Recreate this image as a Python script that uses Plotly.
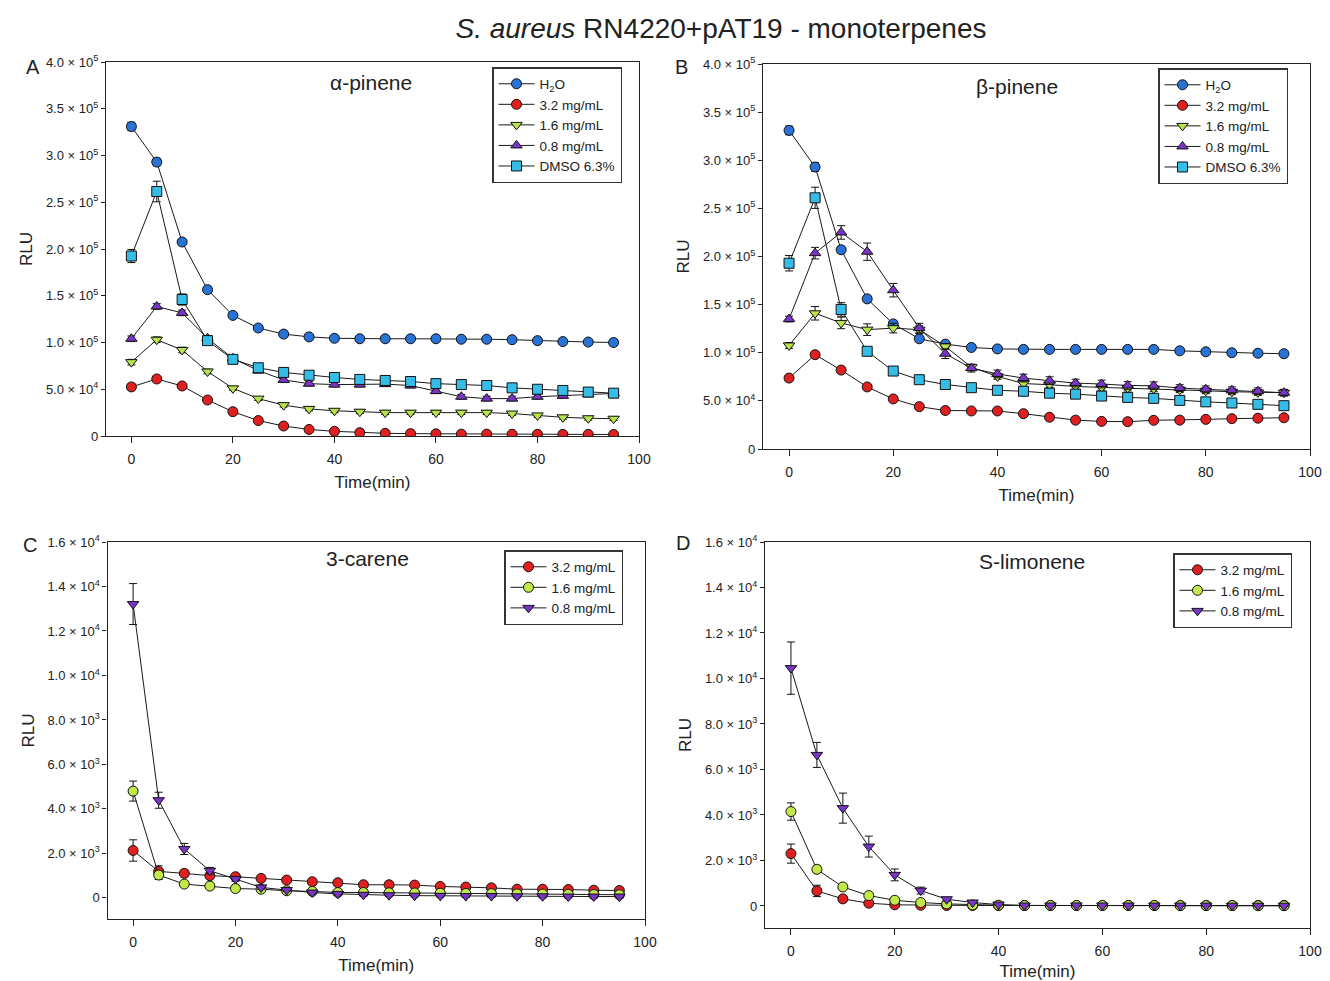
import plotly.graph_objects as go

time = [0, 5, 10, 15, 20, 25, 30, 35, 40, 45, 50, 55, 60, 65, 70, 75, 80, 85, 90, 95]

# Panel A: alpha-pinene
A_h2o = [331000, 293000, 207500, 156500, 129000, 115500, 109000, 106000, 104500, 104000, 104000, 104000, 104000, 103500, 103500, 103000, 102000, 101000, 100500, 100000]
A_32 = [52500, 61000, 53500, 38500, 26000, 16500, 10700, 7000, 5000, 3600, 2900, 2500, 2300, 2000, 2000, 1900, 1800, 1700, 1700, 1600]
A_16 = [79000, 103000, 92000, 69000, 51000, 40000, 33000, 29000, 27000, 26000, 25000, 25000, 25000, 25000, 25000, 24000, 22000, 20000, 19000, 18500]
A_08 = [104000, 138500, 131700, 104500, 83000, 70000, 60000, 56000, 55000, 55000, 55500, 54000, 48000, 42000, 40000, 40000, 42000, 43000, 44500, 45500]
A_dmso = [192500, 261500, 146000, 102000, 82000, 73000, 68000, 65000, 62600, 60500, 59400, 58300, 56000, 55000, 54000, 51500, 50000, 48700, 47000, 45800]
A_h2o_err = [4500, 4000, 3000, 2500, 2000, 2000, 2000, 2000, 2000, 2000, 2000, 2000, 2000, 2000, 2000, 2000, 2000, 2000, 2000, 2000]
A_32_err = [3000, 3000, 2500, 2000, 2000, 2000, 1500, 1500, 1500, 1500, 1500, 1500, 1500, 1500, 1500, 1500, 1500, 1500, 1500, 1500]
A_16_err = [3000, 3000, 3000, 2500, 2000, 2000, 2000, 2000, 2000, 2000, 2000, 2000, 2000, 2000, 2000, 2000, 2000, 2000, 2000, 2000]
A_08_err = [3000, 3000, 3000, 3000, 2500, 2500, 2500, 2500, 2500, 2500, 2500, 2500, 2500, 2500, 2500, 2500, 2500, 2500, 2500, 2500]
A_dmso_err = [7000, 11000, 6000, 3500, 3000, 2500, 2500, 2500, 2500, 2500, 2500, 2500, 2500, 2500, 2500, 2500, 2500, 2500, 2500, 2500]

# Panel B: beta-pinene
B_h2o = [331000, 293000, 207000, 156000, 130000, 114500, 109000, 105500, 104000, 103500, 103500, 103500, 103500, 103500, 103500, 102000, 101000, 100000, 99500, 99000]
B_32 = [73700, 98000, 82000, 64500, 52000, 44000, 40000, 39500, 39500, 36700, 33000, 30000, 28700, 28400, 29800, 30000, 30800, 31500, 32000, 32500]
B_16 = [107600, 141000, 131000, 124000, 125600, 124000, 106600, 85000, 75400, 68000, 66800, 65000, 64000, 63300, 62600, 61600, 60500, 59500, 58800, 58500]
B_08 = [135000, 203500, 225000, 205000, 165000, 125600, 99000, 84000, 78000, 73700, 71000, 68500, 67500, 66000, 65700, 63300, 62000, 61000, 60000, 58500]
B_dmso = [193000, 261000, 145000, 101500, 81000, 72000, 67000, 63700, 61000, 60000, 58000, 57000, 55000, 53600, 52600, 50500, 49000, 47800, 46400, 45000]
B_h2o_err = [4500, 4500, 3500, 3000, 2500, 2500, 2000, 2000, 2000, 2000, 2000, 2000, 2000, 2000, 2000, 2000, 2000, 2000, 2000, 2000]
B_32_err = [3000, 3000, 3000, 2500, 2500, 2000, 2000, 2000, 2000, 2000, 2000, 2000, 2000, 2000, 2000, 2000, 2000, 2000, 2000, 2000]
B_16_err = [3000, 7000, 6000, 6000, 5000, 4000, 3000, 3000, 3000, 3000, 3000, 3000, 3000, 3000, 3000, 3000, 3000, 3000, 3000, 3000]
B_08_err = [3000, 6000, 7000, 9000, 7000, 5000, 5000, 4000, 4000, 4000, 4000, 4000, 4000, 4000, 4000, 3500, 3500, 3500, 3500, 3500]
B_dmso_err = [8000, 11000, 7000, 3500, 3000, 2500, 2500, 2500, 2500, 2500, 2500, 2500, 2500, 2500, 2500, 2500, 2500, 2500, 2500, 2500]

# Panel C: 3-carene
C_32 = [2130, 1190, 1100, 1000, 950, 875, 800, 725, 680, 590, 590, 575, 515, 485, 450, 390, 390, 375, 345, 330]
C_16 = [4800, 1025, 620, 530, 420, 390, 320, 290, 240, 240, 230, 220, 210, 200, 190, 180, 170, 160, 150, 140]
C_08 = [13210, 4390, 2200, 1220, 845, 470, 350, 240, 180, 140, 120, 100, 90, 80, 80, 70, 70, 60, 60, 60]
C_32_err = [480, 250, 150, 120, 100, 80, 60, 60, 60, 60, 60, 60, 60, 60, 60, 60, 60, 60, 60, 60]
C_16_err = [450, 200, 100, 80, 60, 60, 60, 60, 60, 60, 60, 60, 60, 60, 60, 60, 60, 60, 60, 60]
C_08_err = [920, 360, 250, 150, 100, 80, 60, 60, 60, 60, 60, 60, 60, 60, 60, 60, 60, 60, 60, 60]

# Panel D: S-limonene
D_32 = [2300, 660, 310, 120, 50, 30, 20, 20, 20, 20, 20, 20, 20, 20, 20, 20, 20, 20, 20, 20]
D_16 = [4150, 1610, 835, 455, 250, 150, 90, 45, 30, 20, 20, 20, 20, 20, 20, 15, 15, 15, 10, 10]
D_08 = [10455, 6640, 4300, 2610, 1365, 675, 295, 150, 60, 20, 20, 20, 20, 20, 15, 15, 15, 10, 10, 10]
D_32_err = [420, 250, 120, 60, 40, 30, 20, 20, 20, 20, 20, 20, 20, 20, 20, 20, 20, 20, 20, 20]
D_16_err = [380, 150, 100, 60, 40, 30, 20, 20, 20, 20, 20, 20, 20, 20, 20, 20, 20, 20, 20, 20]
D_08_err = [1150, 550, 660, 460, 260, 150, 80, 40, 30, 20, 20, 20, 20, 20, 20, 20, 20, 20, 20, 20]

ticks_AB = [0, 50000, 100000, 150000, 200000, 250000, 300000, 350000, 400000]
ticktext_AB = ["0", "5.0 × 10<sup>4</sup>", "1.0 × 10<sup>5</sup>", "1.5 × 10<sup>5</sup>", "2.0 × 10<sup>5</sup>",
               "2.5 × 10<sup>5</sup>", "3.0 × 10<sup>5</sup>", "3.5 × 10<sup>5</sup>", "4.0 × 10<sup>5</sup>"]
ticks_CD = [0, 2000, 4000, 6000, 8000, 10000, 12000, 14000, 16000]
ticktext_CD = ["0", "2.0 × 10<sup>3</sup>", "4.0 × 10<sup>3</sup>", "6.0 × 10<sup>3</sup>", "8.0 × 10<sup>3</sup>",
               "1.0 × 10<sup>4</sup>", "1.2 × 10<sup>4</sup>", "1.4 × 10<sup>4</sup>", "1.6 × 10<sup>4</sup>"]

BLUE = "#2a73d6"
RED = "#e02020"
YGREEN = "#b9e34a"
PURPLE = "#7a35c8"
CYAN = "#35bde8"
LGREEN = "#c2e84a"

FONT = "Liberation Sans, Arial, sans-serif"

fig = go.Figure()

def add(x, y, err, name, color, symbol, n, legend):
    ax = "" if n == 1 else str(n)
    fig.add_trace(go.Scatter(
        x=x, y=y, name=name, mode="lines+markers",
        xaxis="x" + ax, yaxis="y" + ax, legend=legend,
        line=dict(color="#1a1a1a", width=1),
        marker=dict(color=color, symbol=symbol, size=10, line=dict(color="#111", width=1)),
        error_y=dict(type="data", array=err, color="#111", thickness=1, width=4),
    ))

add(time, A_h2o, A_h2o_err, "H<sub>2</sub>O", BLUE, "circle", 1, "legend")
add(time, A_32, A_32_err, "3.2 mg/mL", RED, "circle", 1, "legend")
add(time, A_16, A_16_err, "1.6 mg/mL", YGREEN, "triangle-down", 1, "legend")
add(time, A_08, A_08_err, "0.8 mg/mL", PURPLE, "triangle-up", 1, "legend")
add(time, A_dmso, A_dmso_err, "DMSO 6.3%", CYAN, "square", 1, "legend")

add(time, B_h2o, B_h2o_err, "H<sub>2</sub>O", BLUE, "circle", 2, "legend2")
add(time, B_32, B_32_err, "3.2 mg/mL", RED, "circle", 2, "legend2")
add(time, B_16, B_16_err, "1.6 mg/mL", YGREEN, "triangle-down", 2, "legend2")
add(time, B_08, B_08_err, "0.8 mg/mL", PURPLE, "triangle-up", 2, "legend2")
add(time, B_dmso, B_dmso_err, "DMSO 6.3%", CYAN, "square", 2, "legend2")

add(time, C_32, C_32_err, "3.2 mg/mL", RED, "circle", 3, "legend3")
add(time, C_16, C_16_err, "1.6 mg/mL", LGREEN, "circle", 3, "legend3")
add(time, C_08, C_08_err, "0.8 mg/mL", PURPLE, "triangle-down", 3, "legend3")

add(time, D_32, D_32_err, "3.2 mg/mL", RED, "circle", 4, "legend4")
add(time, D_16, D_16_err, "1.6 mg/mL", LGREEN, "circle", 4, "legend4")
add(time, D_08, D_08_err, "0.8 mg/mL", PURPLE, "triangle-down", 4, "legend4")

# page body adds an 8px offset; figure is sized so that it reaches the window's edges
OFF = 8
W, H = 1322, 973

def px(x):
    return (x - OFF) / W

def py(y):
    return 1 - (y - OFF) / H

def xdom(l, r):
    return [px(l), px(r)]

def ydom(b, t):
    return [py(b), py(t)]

def xax(dom, anchor):
    return dict(domain=dom, anchor=anchor, range=[-5, 100], tickvals=[0, 20, 40, 60, 80, 100],
                automargin=False, ticklabeloverflow="allow",
                showgrid=False, zeroline=False, showline=True, linecolor="#222", linewidth=1.2, mirror=True,
                ticks="outside", ticklen=6, tickcolor="#222", tickfont=dict(size=14, color="#222"),
                ticklabelstandoff=4,
                title=dict(text="Time(min)", font=dict(size=17, color="#222"), standoff=10))

def yax(dom, anchor, rng, tv, tt):
    return dict(domain=dom, anchor=anchor, range=rng, tickvals=tv, ticktext=tt,
                automargin=False,
                showgrid=False, zeroline=False, showline=True, linecolor="#222", linewidth=1.2, mirror=True,
                ticks="outside", ticklen=4, tickcolor="#222", tickfont=dict(size=13, color="#222"),
                title=dict(text="RLU", font=dict(size=17, color="#222"), standoff=8))

legbase = dict(bgcolor="white", bordercolor="#333", borderwidth=1.5, font=dict(size=13.5, family=FONT, color="#222"),
               xanchor="left", yanchor="top", tracegroupgap=0, itemwidth=36)

fig.update_layout(
    width=W, height=H,
    margin=dict(l=0, r=0, t=0, b=0, autoexpand=False),
    paper_bgcolor="white", plot_bgcolor="white",
    font=dict(family=FONT, color="#222"),
    title=dict(text="<i>S. aureus</i> RN4220+pAT19 - monoterpenes", x=px(721), xanchor="center",
               y=py(28), yanchor="middle", font=dict(size=28, color="#222")),
    xaxis=xax(xdom(106, 639), "y"),
    yaxis=yax(ydom(436, 62), "x", [0, 400000], ticks_AB, ticktext_AB),
    xaxis2=xax(xdom(763, 1310), "y2"),
    yaxis2=yax(ydom(449, 64), "x2", [0, 400000], ticks_AB, ticktext_AB),
    xaxis3=xax(xdom(107.5, 645), "y3"),
    yaxis3=yax(ydom(919, 542), "x3", [-950, 16000], ticks_CD, ticktext_CD),
    xaxis4=xax(xdom(765, 1310), "y4"),
    yaxis4=yax(ydom(928, 542), "x4", [-970, 16000], ticks_CD, ticktext_CD),
    legend=dict(legbase, x=px(492), y=py(67)),
    legend2=dict(legbase, x=px(1158), y=py(68)),
    legend3=dict(legbase, x=px(504), y=py(550)),
    legend4=dict(legbase, x=px(1173), y=py(553)),
)

ann = [
    ("A", 33, 67, 20), ("B", 681, 67, 20), ("C", 30, 545, 20), ("D", 683, 543, 20),
    ("α-pinene", 371, 82, 21), ("β-pinene", 1017, 87, 21), ("3-carene", 367, 558, 21), ("S-limonene", 1032, 561, 21),
]
for text, x, y, s in ann:
    fig.add_annotation(text=text, x=px(x), y=py(y), xref="paper", yref="paper", showarrow=False,
                       xanchor="center", yanchor="middle", font=dict(size=s, color="#222"))

fig.write_html("out.html")
